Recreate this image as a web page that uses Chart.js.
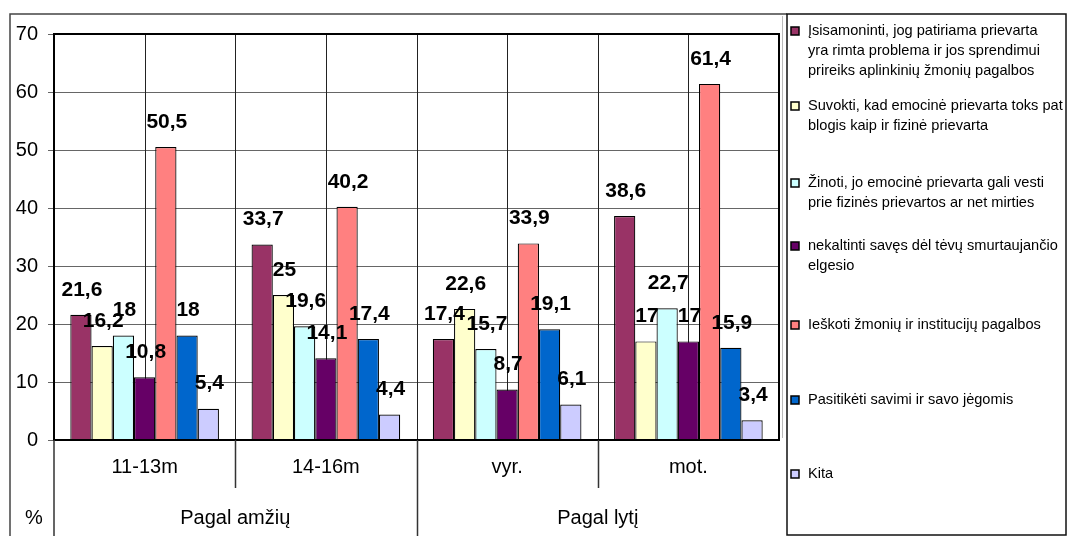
<!DOCTYPE html>
<html>
<head>
<meta charset="utf-8">
<script src="https://cdn.jsdelivr.net/npm/chart.js@4/dist/chart.umd.min.js"></script>
<style>
  body { margin: 0; background: #fff; }
  #wrap { position: relative; width: 1069px; height: 536px; }
</style>
</head>
<body>
<div id="wrap"><canvas id="grafikas"></canvas></div>
<script>
// kategorijos ir grupės
const kategorijos = ['11-13m', '14-16m', 'vyr.', 'mot.'];
const grupes = ['Pagal amžių', 'Pagal lytį'];
const yTicks = [0, 10, 20, 30, 40, 50, 60, 70];

// serijų pavadinimai (legendoje suskaidyti eilutėmis)
const serijuPavadinimai = [
    ['Įsisamoninti, jog patiriama prievarta', 'yra rimta problema ir jos sprendimui', 'prireiks aplinkinių žmonių pagalbos'],
    ['Suvokti, kad emocinė prievarta toks pat', 'blogis kaip ir fizinė prievarta'],
    ['Žinoti, jo emocinė prievarta gali vesti', 'prie fizinės prievartos ar net mirties'],
    ['nekaltinti savęs dėl tėvų smurtaujančio', 'elgesio'],
    ['Ieškoti žmonių ir institucijų pagalbos'],
    ['Pasitikėti savimi ir savo jėgomis'],
    ['Kita']
];

// reikšmės (%)
const isisamoninti = [21.6, 33.7, 17.4, 38.6];
const suvokti = [16.2, 25, 22.6, 17];
const zinoti = [18, 19.6, 15.7, 22.7];
const nekaltinti = [10.8, 14.1, 8.7, 17];
const ieskoti = [50.5, 40.2, 33.9, 61.4];
const pasitiketi = [18, 17.4, 19.1, 15.9];
const kita = [5.4, 4.4, 6.1, 3.4];

const spalvos = ['#993366', '#FFFFCC', '#CCFFFF', '#660066', '#FF8080', '#0066CC', '#CCCCFF'];

const reiksmes = [isisamoninti, suvokti, zinoti, nekaltinti, ieskoti, pasitiketi, kita];

const FONTAS = "'Liberation Sans', Arial, sans-serif";

// papildomas piešimas: tinklelis, etiketės, legenda
const piesimas = {
    id: 'piesimas',
    beforeDatasetsDraw(chart) {
        const ctx = chart.ctx;
        const a = chart.chartArea;
        const x = chart.scales.x;
        const plotis = (a.right - a.left) / kategorijos.length;
        ctx.save();
        ctx.strokeStyle = '#222';
        ctx.lineWidth = 1;
        for (let i = 0; i < kategorijos.length; i++) {
            const c = x.getPixelForValue(i);
            [c, c + plotis / 2].forEach(px => {
                ctx.beginPath();
                ctx.moveTo(Math.round(px) + 0.5, a.top);
                ctx.lineTo(Math.round(px) + 0.5, a.bottom);
                ctx.stroke();
            });
        }
        ctx.restore();
    },
    afterDatasetsDraw(chart) {
        const ctx = chart.ctx;
        const a = chart.chartArea;
        const x = chart.scales.x;
        const plotis = (a.right - a.left) / kategorijos.length;
        ctx.save();

        // rėmelis aplink braižymo sritį
        ctx.strokeStyle = '#000';
        ctx.lineWidth = 2;
        ctx.strokeRect(a.left, a.top, a.right - a.left, a.bottom - a.top);

        // apatinės skiriamosios linijos
        ctx.lineWidth = 1.5;
        ctx.strokeStyle = '#333';
        ctx.beginPath();
        ctx.moveTo(a.left, a.bottom);
        ctx.lineTo(a.left, 536);
        for (let i = 0; i < kategorijos.length - 1; i++) {
            const px = Math.round(x.getPixelForValue(i) + plotis / 2) + 0.5;
            ctx.moveTo(px, a.bottom);
            ctx.lineTo(px, i === 1 ? 536 : a.bottom + 48);
        }
        ctx.stroke();

        // kategorijų ir grupių pavadinimai
        ctx.fillStyle = '#000';
        ctx.textAlign = 'center';
        ctx.textBaseline = 'middle';
        ctx.font = '20px ' + FONTAS;
        kategorijos.forEach((k, i) => {
            ctx.fillText(k, x.getPixelForValue(i), a.bottom + 27);
        });
        grupes.forEach((g, j) => {
            const px = (x.getPixelForValue(j * 2) + x.getPixelForValue(j * 2 + 1)) / 2;
            ctx.fillText(g, px, a.bottom + 78);
        });
        ctx.fillText('%', 34, a.bottom + 78);

        // reikšmių etiketės virš stulpelių
        ctx.font = 'bold 21px ' + FONTAS;
        chart.data.datasets.forEach((ds, d) => {
            const meta = chart.getDatasetMeta(d);
            meta.data.forEach((el, i) => {
                const txt = String(ds.data[i]).replace('.', ',');
                ctx.fillText(txt, el.x + 1, el.y - 25);
            });
        });

        // išorinis rėmelis
        ctx.strokeStyle = '#444';
        ctx.lineWidth = 1.5;
        ctx.beginPath();
        ctx.moveTo(10, 536);
        ctx.lineTo(10, 14);
        ctx.lineTo(787, 14);
        ctx.stroke();
        ctx.strokeStyle = '#bbb';
        ctx.lineWidth = 1;
        ctx.beginPath();
        ctx.moveTo(782.5, 16);
        ctx.lineTo(782.5, 438);
        ctx.stroke();

        // legenda
        ctx.strokeStyle = '#111';
        ctx.lineWidth = 1.5;
        ctx.strokeRect(787, 14, 279, 521);
        const eilY = [31, 106, 183, 246, 325, 400, 474];
        ctx.textAlign = 'left';
        ctx.font = '14.6px ' + FONTAS;
        serijuPavadinimai.forEach((eil, s) => {
            const y0 = eilY[s];
            ctx.fillStyle = spalvos[s];
            ctx.fillRect(791, y0 - 4, 8, 8);
            ctx.strokeStyle = '#000';
            ctx.lineWidth = 1.5;
            ctx.strokeRect(791, y0 - 4, 8, 8);
            ctx.fillStyle = '#000';
            eil.forEach((t, j) => ctx.fillText(t, 808, y0 + j * 20));
        });
        ctx.restore();
    }
};

const duomenys = {
    labels: kategorijos,
    datasets: reiksmes.map((r, s) => ({
        label: serijuPavadinimai[s].join(' '),
        data: r,
        backgroundColor: spalvos[s],
        borderColor: '#000',
        borderWidth: 1.2,
        categoryPercentage: 0.82,
        barPercentage: 1
    }))
};

const config = {
    type: 'bar',
    data: duomenys,
    options: {
        responsive: true,
        maintainAspectRatio: false,
        animation: false,
        layout: { padding: { top: 34, right: 290, left: 0, bottom: 0 } },
        plugins: {
            legend: { display: false },
            tooltip: { enabled: false }
        },
        scales: {
            x: {
                ticks: { display: false },
                grid: { display: false },
                border: { display: false },
                afterFit: scale => { scale.height = 96; }
            },
            y: {
                min: 0,
                max: 70,
                afterFit: scale => { scale.width = 54; },
                afterBuildTicks: scale => { scale.ticks = yTicks.map(v => ({ value: v })); },
                ticks: {
                    color: '#000',
                    padding: 10,
                    font: { family: FONTAS, size: 20 }
                },
                grid: { color: '#666', lineWidth: 1, tickLength: 6, drawTicks: true },
                border: { color: '#000', width: 2 }
            }
        }
    },
    plugins: [piesimas]
};

const ctx = document.getElementById('grafikas');
const myChart = new Chart(ctx, config);
window.myChart = myChart;
</script>
</body>
</html>
